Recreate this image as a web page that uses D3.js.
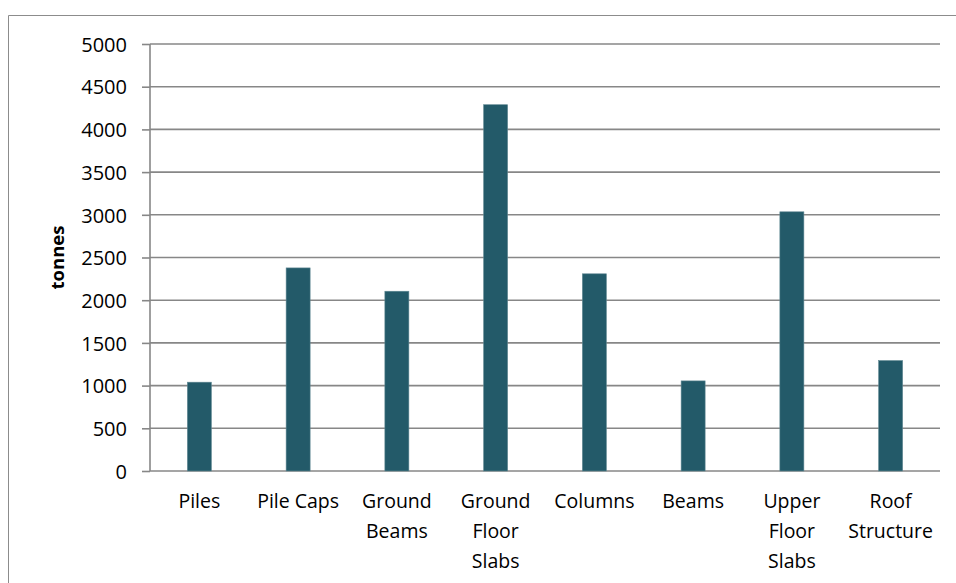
<!DOCTYPE html>
<html>
<head>
<meta charset="utf-8">
<script src="https://cdn.jsdelivr.net/npm/d3@7"></script>
<style>
  html, body { margin: 0; padding: 0; background: #fff; }
  svg { display: block; }
  text { font-family: "Open Sans", Lato, sans-serif; fill: #000; }
</style>
</head>
<body>
<svg id="chart" width="956" height="583"></svg>
<script>
// Embodied carbon by structural element (tonnes)
const categories = [
  ["Piles"],
  ["Pile Caps"],
  ["Ground", "Beams"],
  ["Ground", "Floor", "Slabs"],
  ["Columns"],
  ["Beams"],
  ["Upper", "Floor", "Slabs"],
  ["Roof", "Structure"]
];
const values = [1040, 2378, 2105, 4289, 2309, 1055, 3035, 1293];
const yTicks = [0, 500, 1000, 1500, 2000, 2500, 3000, 3500, 4000, 4500, 5000];
const yLabel = "tonnes";

const svg = d3.select("#chart");
const W = 956, H = 583;
const m = { left: 150, right: 16, top: 44, bottom: 112 };

// chart area frame (left and top edges visible)
svg.append("path")
  .attr("d", `M8.5,${H} L8.5,15.5 L${W},15.5`)
  .attr("fill", "none").attr("stroke", "#8c8c8c").attr("stroke-width", 1);

const keys = categories.map(c => c.join(" "));
const x = d3.scaleBand().domain(keys).range([m.left, W - m.right]).paddingInner(0).paddingOuter(0);
const y = d3.scaleLinear().domain([0, 5000]).range([H - m.bottom, m.top]);

// horizontal gridlines with outward ticks
const yAxis = svg.append("g").attr("transform", `translate(${m.left},0)`)
  .call(d3.axisLeft(y).tickValues(yTicks).tickSize(8).tickPadding(15).tickFormat(d3.format("d")));
yAxis.select(".domain").remove();
yAxis.selectAll(".tick line").attr("stroke", "#878787").attr("stroke-width", 1.6);
yAxis.selectAll(".tick text").style("font-size", "20px").attr("dy", "0.36em");

svg.append("g").selectAll("line.grid").data(yTicks).join("line")
  .attr("x1", m.left).attr("x2", W - m.right)
  .attr("y1", d => y(d)).attr("y2", d => y(d))
  .attr("stroke", "#878787").attr("stroke-width", 1.6);

// vertical axis line
svg.append("line")
  .attr("x1", m.left).attr("x2", m.left)
  .attr("y1", y(5000)).attr("y2", y(0))
  .attr("stroke", "#878787").attr("stroke-width", 1.6);

// bars
const bw = 24;
svg.append("g").selectAll("rect").data(values).join("rect")
  .attr("x", (d, i) => x(keys[i]) + x.bandwidth() / 2 - bw / 2)
  .attr("width", bw)
  .attr("y", d => y(d))
  .attr("height", d => y(0) - y(d))
  .attr("fill", "#235a69")
  .attr("stroke", "#5f8792").attr("stroke-width", 0.6);

// category labels (wrapped)
const lab = svg.append("g");
categories.forEach((lines, i) => {
  const t = lab.append("text")
    .attr("text-anchor", "middle")
    .style("font-size", "19.5px")
    .attr("x", x(keys[i]) + x.bandwidth() / 2)
    .attr("y", 508);
  lines.forEach((ln, j) => {
    t.append("tspan").attr("x", x(keys[i]) + x.bandwidth() / 2)
      .attr("y", 508 + j * 30).text(ln);
  });
});

// y-axis title
svg.append("text")
  .attr("transform", `translate(64,${(y(0) + y(5000)) / 2}) rotate(-90)`)
  .attr("text-anchor", "middle")
  .style("font-size", "18.5px").style("font-weight", "bold")
  .text(yLabel);
</script>
</body>
</html>
